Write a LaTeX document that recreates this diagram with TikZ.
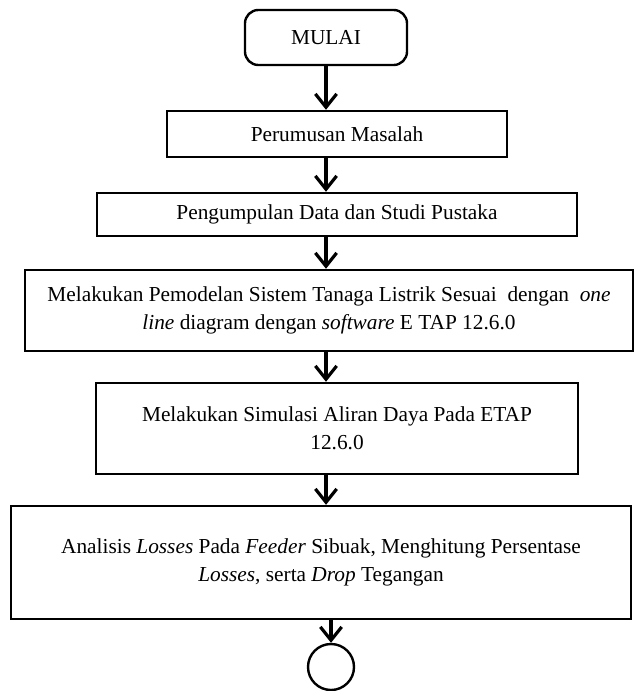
\documentclass[tikz,border=0pt]{standalone}
\usepackage{fontspec}
\setmainfont{Liberation Serif}
\usetikzlibrary{arrows.meta}
\usetikzlibrary{shapes}

\begin{document}
\begin{tikzpicture}[x=0.75pt,y=-0.75pt,
  langkah/.style={draw,rectangle,line width=1.8pt,align=center,inner sep=0pt,
    font=\fontsize{16}{21}\selectfont},
  alur/.style={line width=2.4pt,-{Straight Barb[length=10pt,width=16pt,line width=2.4pt]}}]
  \useasboundingbox (0,0) rectangle (639,691);
  \node[langkah,rounded corners=10pt,minimum width=121.5pt,minimum height=41.25pt] (mulai) at (326,37.5) {MULAI};
  \node[langkah,minimum width=255pt,minimum height=34.5pt] (rumusan) at (337,134) {Perumusan Masalah};
  \node[langkah,minimum width=360pt,minimum height=32.25pt] (data) at (337,214.5) {Pengumpulan Data dan Studi Pustaka};
  \node[langkah,minimum width=456pt,minimum height=60.75pt] (model) at (329,310.5)
    {Melakukan Pemodelan Sistem Tanaga Listrik Sesuai~ dengan~ \textit{one}\\
     \textit{line} diagram dengan \textit{software} E TAP 12.6.0};
  \node[langkah,minimum width=361.5pt,minimum height=68.25pt] (simulasi) at (337,428.5)
    {Melakukan Simulasi Aliran Daya Pada ETAP\\ 12.6.0};
  \node[langkah,minimum width=465pt,minimum height=84.75pt] (analisis) at (321,562.5)
    {Analisis \textit{Losses} Pada \textit{Feeder} Sibuak, Menghitung Persentase\\
     \textit{Losses}, serta \textit{Drop} Tegangan};
  \node[draw,circle,line width=1.8pt,minimum size=34.5pt,inner sep=0pt] (selesai) at (331,667) {};
  \draw[alur] (mulai.south) -- (mulai.south |- rumusan.north);
  \draw[alur] (rumusan.south -| mulai.south) -- (data.north -| mulai.south);
  \draw[alur] (data.south -| mulai.south) -- (model.north -| mulai.south);
  \draw[alur] (model.south -| mulai.south) -- (simulasi.north -| mulai.south);
  \draw[alur] (simulasi.south -| mulai.south) -- (analisis.north -| mulai.south);
  \draw[alur] (analisis.south -| selesai.north) -- (selesai.north);
\end{tikzpicture}
\end{document}
